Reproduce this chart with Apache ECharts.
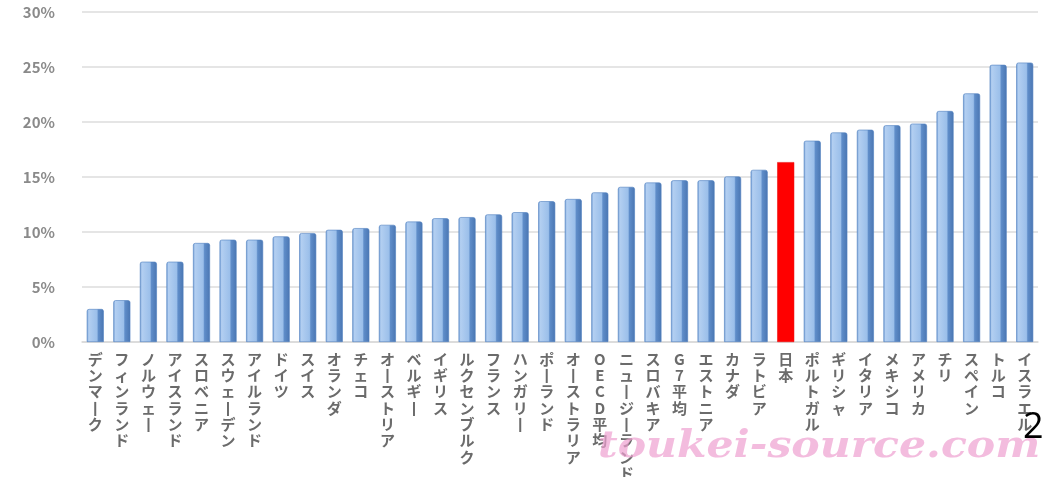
<!DOCTYPE html>
<html>
<head>
<meta charset="utf-8">
<script src="https://cdn.jsdelivr.net/npm/echarts@6/dist/echarts.min.js"></script>
<style>
  html, body { margin: 0; padding: 0; background: #fff; }
  #chart { width: 1045px; height: 477px; }
</style>
</head>
<body>
<div id="chart"></div>
<script>
// Relative poverty rate by country (%)
const countries = [
  'デンマーク', 'フィンランド', 'ノルウェー', 'アイスランド', 'スロベニア', 'スウェーデン',
  'アイルランド', 'ドイツ', 'スイス', 'オランダ', 'チェコ', 'オーストリア',
  'ベルギー', 'イギリス', 'ルクセンブルク', 'フランス', 'ハンガリー', 'ポーランド',
  'オーストラリア', 'OECD平均', 'ニュージーランド', 'スロバキア', 'G7平均', 'エストニア',
  'カナダ', 'ラトビア', '日本', 'ポルトガル', 'ギリシャ', 'イタリア',
  'メキシコ', 'アメリカ', 'チリ', 'スペイン', 'トルコ', 'イスラエル'
];
const rates = [
  3.0, 3.8, 7.3, 7.3, 9.0, 9.3,
  9.3, 9.6, 9.9, 10.2, 10.35, 10.65,
  10.95, 11.25, 11.35, 11.6, 11.8, 12.8,
  13.0, 13.6, 14.1, 14.5, 14.7, 14.7,
  15.05, 15.65, 16.35, 18.3, 19.05, 19.3,
  19.7, 19.85, 21.0, 22.6, 25.2, 25.4
];
const highlight = '日本';
const yTicks = [0, 5, 10, 15, 20, 25, 30];

const chart = echarts.init(document.getElementById('chart'));

const blueBar = {
  type: 'linear', x: 0, y: 0, x2: 1, y2: 0,
  colorStops: [
    { offset: 0, color: '#6f9bd3' },
    { offset: 0.12, color: '#b3cff1' },
    { offset: 0.6, color: '#9bbfea' },
    { offset: 0.68, color: '#5f8dc9' },
    { offset: 1, color: '#4a76b2' }
  ]
};

// stack label characters vertically; long-vowel marks turn upright
function verticalText(name) {
  return name.split('').map(function (c) { return c === 'ー' ? '丨' : c; }).join('\n');
}

chart.setOption({
  animation: false,
  grid: { left: 82, right: 7, top: 12, bottom: 135, outerBoundsMode: 'none', containLabel: false },
  xAxis: {
    type: 'category',
    data: countries,
    axisTick: { show: false },
    axisLine: { lineStyle: { color: '#d9d9d9', width: 1.5 } },
    axisLabel: {
      interval: 0,
      margin: 9,
      fontFamily: 'Noto Sans CJK JP',
      fontWeight: 'bold',
      fontSize: 15,
      lineHeight: 16.3,
      color: '#6b6b6b',
      formatter: verticalText
    }
  },
  yAxis: {
    type: 'value',
    min: yTicks[0],
    max: yTicks[yTicks.length - 1],
    interval: 5,
    axisLine: { show: false },
    axisTick: { show: false },
    splitLine: { lineStyle: { color: '#dcdcdc', width: 1.5 } },
    axisLabel: {
      margin: 27,
      fontFamily: 'Noto Sans CJK JP',
      fontWeight: 'bold',
      fontSize: 15,
      color: '#8a8a8a',
      formatter: '{value}%'
    }
  },
  series: [{
    type: 'bar',
    barWidth: 17,
    data: rates.map(function (v, i) {
      const isHi = countries[i] === highlight;
      return {
        value: v,
        itemStyle: isHi
          ? { color: '#ff0000', borderColor: '#e60000', borderWidth: 0.5 }
          : { color: blueBar, borderColor: '#4f7fbf', borderWidth: 0.6, borderRadius: [2, 2, 0, 0] }
      };
    })
  }],
  graphic: [
    {
      type: 'text',
      x: 598, y: 428,
      scaleX: 1.12,
      style: {
        text: 'toukei-source.com',
        font: 'italic bold 38px "DejaVu Serif"',
        fill: 'rgba(238, 160, 208, 0.7)'
      },
      z: 100
    },
    {
      type: 'text',
      left: 1023, top: 410,
      style: {
        text: '2',
        font: '36px "Open Sans"',
        fill: '#000'
      },
      z: 101
    }
  ]
});
</script>
</body>
</html>
